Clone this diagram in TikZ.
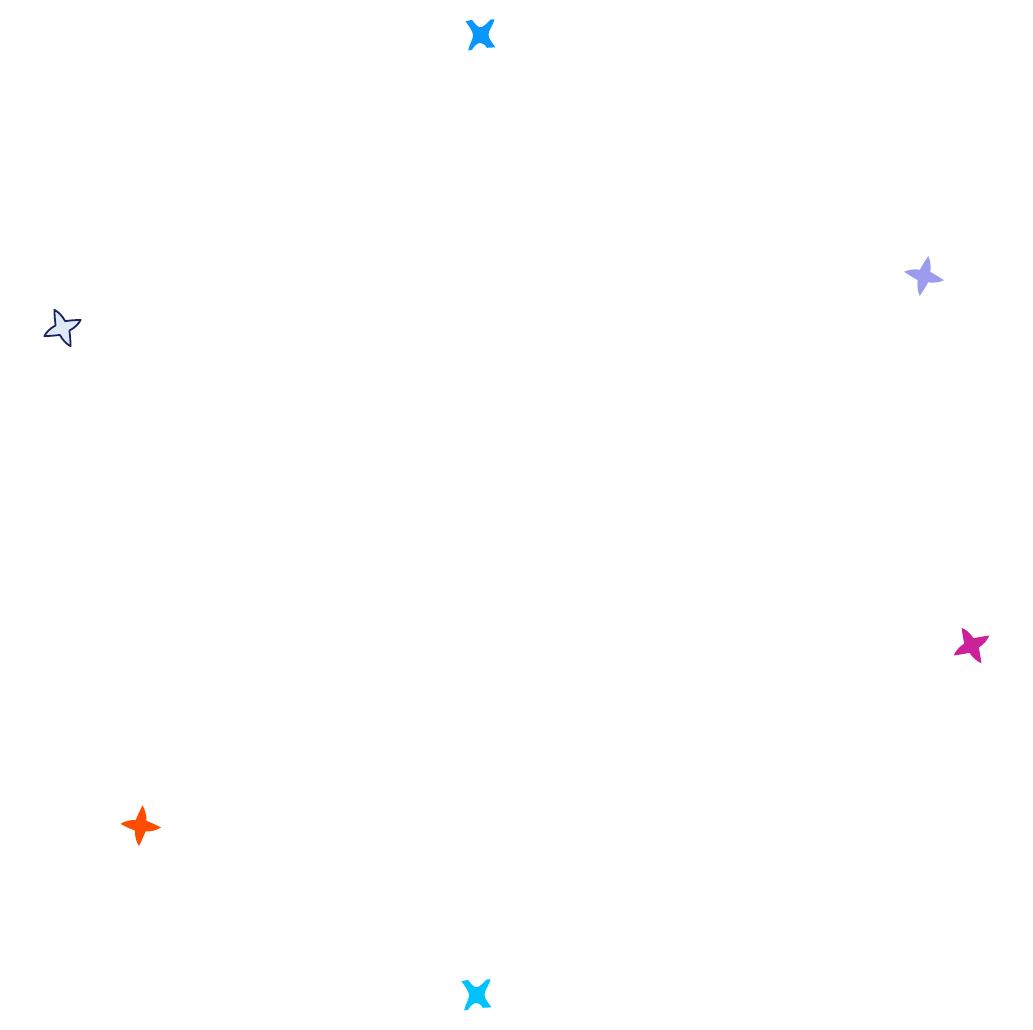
\documentclass[tikz,border=0pt]{standalone}
\definecolor{bluex}{HTML}{0A96FF}
\definecolor{cyanx}{HTML}{00C2FF}
\definecolor{lilac}{HTML}{9C9CEE}
\definecolor{navy}{HTML}{1A2463}
\definecolor{pale}{HTML}{DFE8F5}
\definecolor{magent}{HTML}{CC2299}
\definecolor{orang}{HTML}{FF4D00}
\tikzset{
  sparkle/.pic={
    \path[pic actions]
    (0,-21) .. controls (3,-17) and (5,-12) .. (5.5,-5.5)
    .. controls (9,-4.5) and (15,-2.5) .. (21,0)
    .. controls (17,3) and (12,5) .. (5.5,5.5)
    .. controls (4.5,9) and (2.5,15) .. (0,21)
    .. controls (-3,17) and (-5,12) .. (-5.5,5.5)
    .. controls (-9,4.5) and (-15,2.5) .. (-21,0)
    .. controls (-17,-3) and (-12,-5) .. (-5.5,-5.5)
    .. controls (-4.5,-9) and (-2.5,-15) .. (0,-21) -- cycle;
  },
  crossed/.pic={
    \path[pic actions]
    (-15,-13.5) -- (-8.5,-15)
    .. controls (-6,-11.5) and (-3,-7.5) .. (0,-7.5)
    .. controls (3,-7.5) and (7,-12.5) .. (10.5,-15.5)
    -- (14,-15.5)
    .. controls (13,-10) and (8,-5) .. (8,0)
    .. controls (8,4) and (12.5,9) .. (15,12.5)
    -- (6.5,13)
    .. controls (5,11) and (3,8) .. (0,8)
    .. controls (-3,8) and (-6.5,11.5) .. (-8.5,15)
    -- (-12.3,15.7)
    .. controls (-11.5,10) and (-7.5,5) .. (-7.5,0.7)
    .. controls (-7.5,-4) and (-12,-9) .. (-15,-13.5) -- cycle;
  },
}
\begin{document}
\begin{tikzpicture}[x=1pt,y=-1pt]
  \useasboundingbox (0,0) rectangle (1033,1029);
  \pic[fill=bluex] (top) at (480.5,34.8) {crossed};
  \pic[fill=lilac,rotate=-12,scale=.97] (upright) at (924,276) {sparkle};
  \pic[fill=pale,draw=navy,line width=1.8pt,line join=round,rotate=24,scale=.95] (left) at (62.5,328) {sparkle};
  \pic[fill=magent,rotate=29,scale=.97] (right) at (971.5,645.5) {sparkle};
  \pic[fill=orang,rotate=-5,scale=.97] (lowleft) at (140.7,825.7) {sparkle};
  \pic[fill=cyanx] (bottom) at (476.5,994.8) {crossed};
\end{tikzpicture}
\end{document}
